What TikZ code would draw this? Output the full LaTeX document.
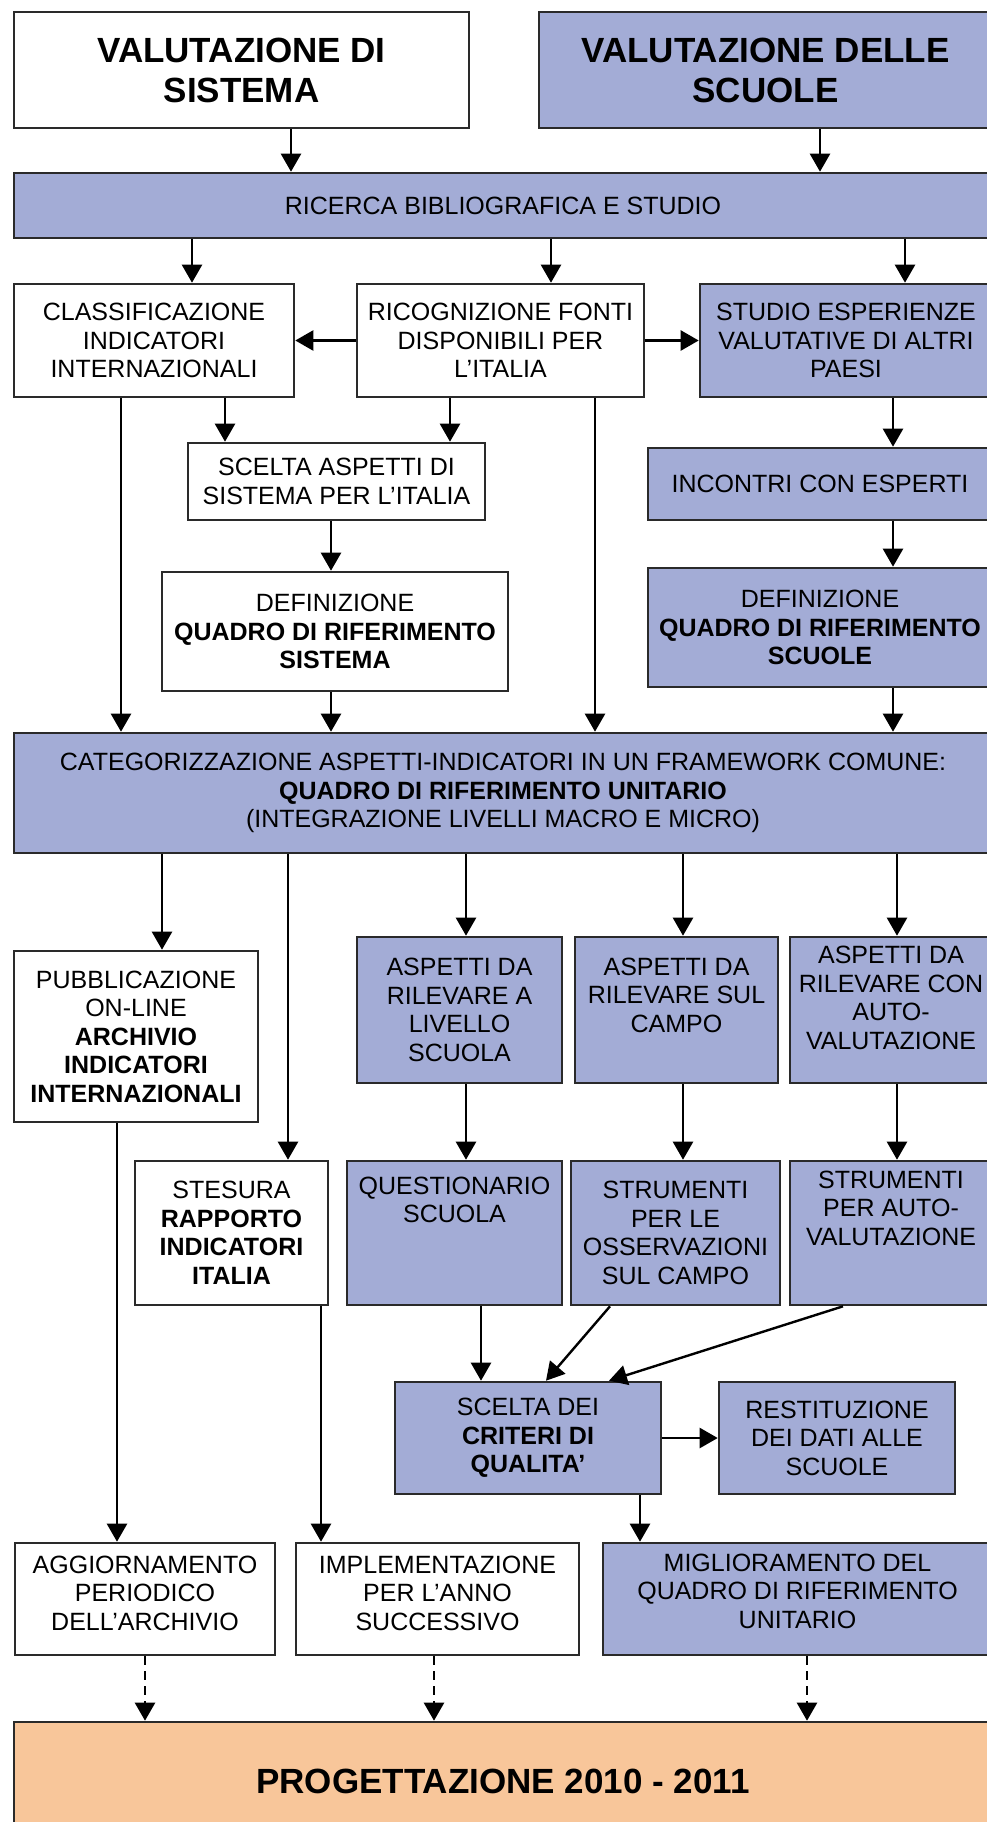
\documentclass[tikz,border=0pt]{standalone}
\usepackage{fontspec}
\setmainfont{Liberation Sans}
\usetikzlibrary{arrows.meta}
\definecolor{lavender}{HTML}{A3ACD6}
\definecolor{peach}{HTML}{F8C69A}
\definecolor{edge}{HTML}{2A2A2A}

\begin{document}
\begin{tikzpicture}[x=1pt, y=-1pt,
    box/.style={draw=edge, line width=2.6pt, inner sep=2pt, align=center,
      font=\fontsize{25}{28.5}\selectfont},
    dims/.style 2 args={minimum width=#1pt, minimum height=#2pt},
    plain box/.style={box, fill=white},
    blue box/.style={box, fill=lavender},
    title/.style={font=\fontsize{35}{40}\selectfont\bfseries},
    arr/.style={-{Triangle[length=18pt, width=20pt]}, line width=2.4pt, draw=black},
    dash arr/.style={arr, dash pattern=on 9pt off 6pt}]
      \useasboundingbox (0,0) rectangle (987,1822);
      \fill[white] (0,0) rectangle (987,1822);
      \clip (0,0) rectangle (987,1822);

      \node[plain box, title, dims={455}{116}] (sys) at (241.5,70) {VALUTAZIONE DI\\SISTEMA};
      \node[blue box, title, dims={453}{116}] (scu) at (765.5,70) {VALUTAZIONE DELLE\\SCUOLE};
      \node[blue box, dims={978}{65}] (ric) at (503,205.5) {RICERCA BIBLIOGRAFICA E STUDIO};
      \node[plain box, dims={280}{113}] (cls) at (154,340.5) {CLASSIFICAZIONE\\INDICATORI\\INTERNAZIONALI};
      \node[plain box, dims={287}{113}] (rcg) at (500.5,340.5) {RICOGNIZIONE FONTI\\DISPONIBILI PER\\L'ITALIA};
      \node[blue box, dims={292}{113}] (esp) at (846,340.5) {STUDIO ESPERIENZE\\VALUTATIVE DI ALTRI\\PAESI};
      \node[plain box, dims={297}{77}] (asp) at (336.5,481.5) {SCELTA ASPETTI DI\\SISTEMA PER L'ITALIA};
      \node[blue box, dims={344}{72}] (inc) at (820,484) {INCONTRI CON ESPERTI};
      \node[plain box, dims={346}{119}] (dsis) at (335,631.5) {DEFINIZIONE\\\textbf{QUADRO DI RIFERIMENTO}\\\textbf{SISTEMA}};
      \node[blue box, dims={344}{119}] (dsc) at (820,627.5) {DEFINIZIONE\\\textbf{QUADRO DI RIFERIMENTO}\\\textbf{SCUOLE}};
      \node[blue box, dims={978}{120}] (cat) at (503,793) {CATEGORIZZAZIONE ASPETTI-INDICATORI IN UN FRAMEWORK COMUNE:\\\textbf{QUADRO DI RIFERIMENTO UNITARIO}\\(INTEGRAZIONE LIVELLI MACRO E MICRO)};
      \node[plain box, dims={244}{171}] (pub) at (136,1036.5) {PUBBLICAZIONE\\ON-LINE\\\textbf{ARCHIVIO}\\\textbf{INDICATORI}\\\textbf{INTERNAZIONALI}};
      \node[blue box, dims={205}{146}] (rl1) at (459.5,1010) {ASPETTI DA\\RILEVARE A\\LIVELLO\\SCUOLA};
      \node[blue box, dims={203}{146}, text depth=30pt] (rl2) at (676.5,1010) {ASPETTI DA\\RILEVARE SUL\\CAMPO};
      \node[blue box, dims={202}{146}, text depth=24pt] (rl3) at (891,1010) {ASPETTI DA\\RILEVARE CON\\AUTO-\\VALUTAZIONE};
      \node[plain box, dims={193}{144}] (ste) at (231.5,1233) {STESURA\\\textbf{RAPPORTO}\\\textbf{INDICATORI}\\\textbf{ITALIA}};
      \node[blue box, dims={215}{144}, text depth=66pt] (que) at (454.5,1233) {QUESTIONARIO\\SCUOLA};
      \node[blue box, dims={209}{144}] (st1) at (675.5,1233) {STRUMENTI\\PER LE\\OSSERVAZIONI\\SUL CAMPO};
      \node[blue box, dims={202}{144}, text depth=50pt] (st2) at (891,1233) {STRUMENTI\\PER AUTO-\\VALUTAZIONE};
      \node[blue box, dims={266}{112}] (crt) at (528,1438) {SCELTA DEI\\\textbf{CRITERI DI}\\\textbf{QUALITA'}};
      \node[blue box, dims={236}{112}] (res) at (837,1438) {RESTITUZIONE\\DEI DATI ALLE\\SCUOLE};
      \node[plain box, dims={260}{112}, text depth=12pt] (agg) at (145,1599) {AGGIORNAMENTO\\PERIODICO\\DELL'ARCHIVIO};
      \node[plain box, dims={283}{112}, text depth=12pt] (imp) at (437.5,1599) {IMPLEMENTAZIONE\\PER L'ANNO\\SUCCESSIVO};
      \node[blue box, dims={389}{112}, text depth=16pt] (mig) at (797.5,1599) {MIGLIORAMENTO DEL\\QUADRO DI RIFERIMENTO\\UNITARIO};
      \node[box, fill=peach, title, dims={978}{118}] (prg) at (503,1781) {PROGETTAZIONE 2010 - 2011};

      \path (291,0) coordinate (x1) (820,0) coordinate (x2) (192,0) coordinate (x3)
            (551,0) coordinate (x4) (905,0) coordinate (x5) (121,0) coordinate (x6)
            (225,0) coordinate (x7) (450,0) coordinate (x8) (595,0) coordinate (x9)
            (893,0) coordinate (x10) (331,0) coordinate (x11) (162,0) coordinate (x12)
            (288,0) coordinate (x13) (466,0) coordinate (x14) (683,0) coordinate (x15)
            (897,0) coordinate (x16) (117,0) coordinate (x17) (321,0) coordinate (x18)
            (481,0) coordinate (x19) (640,0) coordinate (x20) (610,0) coordinate (x21)
            (546,0) coordinate (x22) (843,0) coordinate (x23) (609,0) coordinate (x24)
            (145,0) coordinate (x25) (434,0) coordinate (x26) (807,0) coordinate (x27);

      \foreach \s/\t/\l in {sys/ric/x1, scu/ric/x2, ric/cls/x3, ric/rcg/x4, ric/esp/x5,
          cls/cat/x6, cls/asp/x7, rcg/asp/x8, rcg/cat/x9, esp/inc/x10, inc/dsc/x10,
          dsc/cat/x10, asp/dsis/x11, dsis/cat/x11, cat/pub/x12, cat/ste/x13,
          cat/rl1/x14, rl1/que/x14, cat/rl2/x15, rl2/st1/x15, cat/rl3/x16, rl3/st2/x16,
          pub/agg/x17, ste/imp/x18, que/crt/x19, crt/mig/x20}
        \draw[arr] (\s.south -| \l) -- (\t.north -| \l);
      \draw[arr] (rcg.west) -- (cls.east);
      \draw[arr] (rcg.east) -- (esp.west);
      \draw[arr] (st1.south -| x21) -- (crt.north -| x22);
      \draw[arr] (st2.south -| x23) -- (crt.north -| x24);
      \draw[arr] (crt.east) -- (res.west);
      \foreach \s/\l in {agg/x25, imp/x26, mig/x27}
        \draw[dash arr] (\s.south -| \l) -- (prg.north -| \l);
    \end{tikzpicture}
\end{document}
